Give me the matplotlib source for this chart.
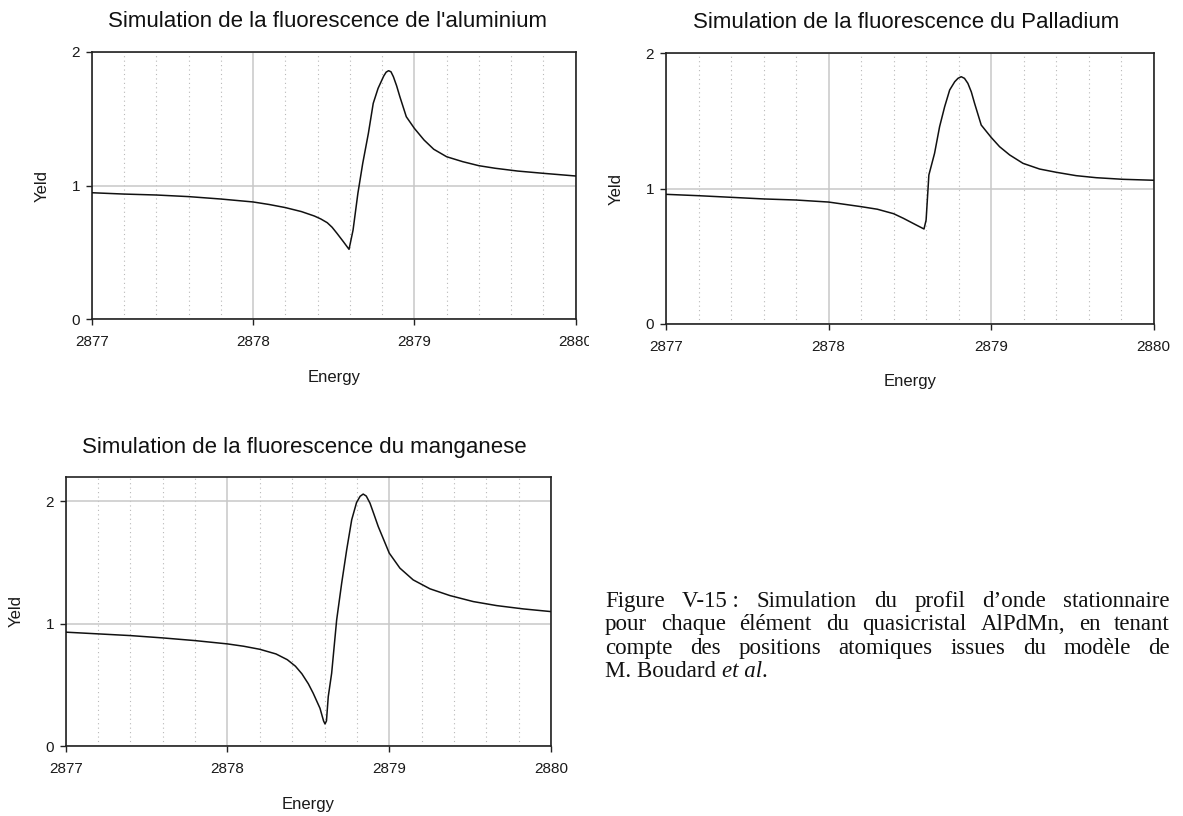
import numpy as np
import matplotlib
matplotlib.use("Agg")
import matplotlib.pyplot as plt
from matplotlib.ticker import MultipleLocator
from matplotlib.transforms import Bbox, TransformedBbox

# energies / yields
al_energy = [2877.0, 2877.2, 2877.4, 2877.6, 2877.8, 2878.0, 2878.1, 2878.2, 2878.3,
             2878.38, 2878.42, 2878.46, 2878.49, 2878.52, 2878.56, 2878.595, 2878.62,
             2878.65, 2878.68, 2878.715, 2878.745, 2878.775, 2878.81, 2878.825, 2878.84,
             2878.855, 2878.87, 2878.89, 2878.91, 2878.95, 2879.0, 2879.06, 2879.12,
             2879.2, 2879.3, 2879.4, 2879.5, 2879.64, 2879.8, 2880.0]
al_yield = [0.946, 0.936, 0.929, 0.917, 0.899, 0.877, 0.858, 0.835, 0.805,
            0.772, 0.750, 0.722, 0.688, 0.643, 0.580, 0.523, 0.667,
            0.942, 1.166, 1.390, 1.614, 1.726, 1.818, 1.847, 1.858,
            1.850, 1.813, 1.745, 1.664, 1.514, 1.427, 1.340, 1.271,
            1.215, 1.178, 1.148, 1.129, 1.108, 1.091, 1.071]

pd_energy = [2877.0, 2877.2, 2877.4, 2877.6, 2877.8, 2878.0, 2878.2, 2878.3, 2878.4,
             2878.46, 2878.54, 2878.587, 2878.6, 2878.617, 2878.652, 2878.683, 2878.714,
             2878.745, 2878.776, 2878.796, 2878.816, 2878.836, 2878.857, 2878.878, 2878.898,
             2878.939, 2879.0, 2879.052, 2879.114, 2879.196, 2879.298, 2879.4, 2879.523,
             2879.646, 2879.811, 2880.0]
pd_yield = [0.958, 0.948, 0.936, 0.924, 0.916, 0.901, 0.867, 0.848, 0.815,
            0.781, 0.731, 0.702, 0.768, 1.101, 1.261, 1.458, 1.605,
            1.729, 1.790, 1.815, 1.827, 1.815, 1.778, 1.715, 1.631,
            1.470, 1.379, 1.310, 1.249, 1.187, 1.145, 1.121, 1.096,
            1.081, 1.069, 1.062]

mn_energy = [2877.0, 2877.2, 2877.4, 2877.6, 2877.8, 2878.0, 2878.1, 2878.2, 2878.3,
             2878.37, 2878.42, 2878.46, 2878.5, 2878.53, 2878.572, 2878.594, 2878.603,
             2878.612, 2878.623, 2878.644, 2878.675, 2878.706, 2878.737, 2878.768, 2878.798,
             2878.82, 2878.839, 2878.858, 2878.881, 2878.905, 2878.932, 2879.0, 2879.066,
             2879.148, 2879.252, 2879.375, 2879.519, 2879.664, 2879.828, 2880.0]
mn_yield = [0.930, 0.916, 0.902, 0.883, 0.861, 0.834, 0.815, 0.790, 0.752,
            0.705, 0.652, 0.590, 0.508, 0.431, 0.308, 0.205, 0.180,
            0.205, 0.403, 0.594, 1.030, 1.330, 1.603, 1.848, 1.989,
            2.040, 2.058, 2.042, 1.984, 1.895, 1.793, 1.576, 1.453,
            1.357, 1.284, 1.229, 1.180, 1.147, 1.120, 1.098]

x_ticks = [2877, 2878, 2879, 2880]
x_tick_labels = ["2877", "2878", "2879", "2880"]

titles = ["Simulation de la fluorescence de l'aluminium",
          "Simulation de la fluorescence du Palladium",
          "Simulation de la fluorescence du manganese"]

# one entry per justified line, already split into words
caption_lines = [["Figure", "V-15 :", "Simulation", "du", "profil", "d\u2019onde", "stationnaire"],
                 ["pour", "chaque", "\u00e9l\u00e9ment", "du", "quasicristal", "AlPdMn,", "en", "tenant"],
                 ["compte", "des", "positions", "atomiques", "issues", "du", "mod\u00e8le", "de"]]

W, H = 1183, 816
plt.rcParams["font.family"] = ["Liberation Sans", "DejaVu Sans"]

fig = plt.figure(figsize=(W / 100, H / 100), dpi=100)
fig.patch.set_facecolor("white")


def px_rect(left, top, right, bottom):
    return [left / W, 1 - bottom / H, (right - left) / W, (bottom - top) / H]


def panel(box, energy, yld, ylim, yticks, title, title_xy):
    ax = fig.add_axes(px_rect(*box))
    ax.plot(energy, yld, color="#111111", lw=1.1, zorder=3)
    ax.set_xlim(2877, 2880)
    ax.set_ylim(*ylim)
    ax.set_xticks(x_ticks)
    ax.set_xticklabels(x_tick_labels)
    ax.set_yticks(yticks)
    ax.set_yticklabels([str(v) for v in yticks])
    ax.xaxis.set_minor_locator(MultipleLocator(0.2))
    ax.tick_params(which="major", direction="out", length=4.5, width=1,
                   color="#222222", labelsize=11, labelcolor="#1a1a1a")
    ax.tick_params(axis="x", which="major", pad=7)
    ax.tick_params(axis="y", which="major", pad=4)
    ax.tick_params(which="minor", length=0)
    ax.grid(which="major", color="#c8c8c8", lw=1.1)
    ax.grid(which="minor", axis="x", color="#b8b8b8", lw=0.8, ls=(0, (1, 3)))
    ax.set_axisbelow(True)
    for s in ax.spines.values():
        s.set_color("#222222")
        s.set_linewidth(1.2)
    w = box[2] - box[0]
    h = box[3] - box[1]
    ax.set_xlabel("Energy", fontsize=12, color="#1a1a1a")
    ax.xaxis.set_label_coords(0.5, -58 / h)
    ax.xaxis.label.set_va("center")
    ax.set_ylabel("Yeld", fontsize=12, color="#1a1a1a")
    ax.yaxis.set_label_coords(-50 / w, 0.5)
    ax.yaxis.label.set_va("center")
    fig.text(title_xy[0] / W, 1 - title_xy[1] / H, title, fontsize=16,
             ha="center", va="baseline", color="#111111")
    return ax


ax1 = panel((91.7, 51.7, 575.7, 319.3), al_energy, al_yield, (0, 2), [0, 1, 2],
            titles[0], (328, 27))
ax2 = panel((666, 53.3, 1153.7, 324), pd_energy, pd_yield, (0, 2), [0, 1, 2],
            titles[1], (906, 28))
ax3 = panel((65.7, 476.7, 551, 746), mn_energy, mn_yield, (0, 2.2), [0, 1, 2],
            titles[2], (304, 453))

# the last label of the first chart is cut by the neighbouring picture
clip = TransformedBbox(Bbox([[0, 0], [589 / W, 1]]), fig.transFigure)
lab = ax1.xaxis.get_major_ticks()[-1].label1
lab.set_clip_box(clip)
lab.set_clip_on(True)

# justified caption, placed word by word
renderer = fig.canvas.get_renderer()
cap_left, cap_right = 605, 1170
baselines = [607, 630, 654, 677]
cap_font = dict(family="Liberation Serif", fontsize=16.5, color="#111111")

for words, yb in zip(caption_lines, baselines):
    texts = [fig.text(0, 1 - yb / H, wd, va="baseline", ha="left", **cap_font) for wd in words]
    widths = [t.get_window_extent(renderer).width for t in texts]
    gap = (cap_right - cap_left - sum(widths)) / (len(words) - 1)
    xpos = cap_left
    for t, wd in zip(texts, widths):
        t.set_x(xpos / W)
        xpos += wd + gap

t1 = fig.text(cap_left / W, 1 - baselines[3] / H, "M. Boudard ", va="baseline", **cap_font)
w1 = t1.get_window_extent(renderer).width
t2 = fig.text((cap_left + w1) / W, 1 - baselines[3] / H, "et al", va="baseline",
              style="italic", **cap_font)
w2 = t2.get_window_extent(renderer).width
fig.text((cap_left + w1 + w2) / W, 1 - baselines[3] / H, ".", va="baseline", **cap_font)

fig.savefig("out.png", dpi=100, facecolor="white")
